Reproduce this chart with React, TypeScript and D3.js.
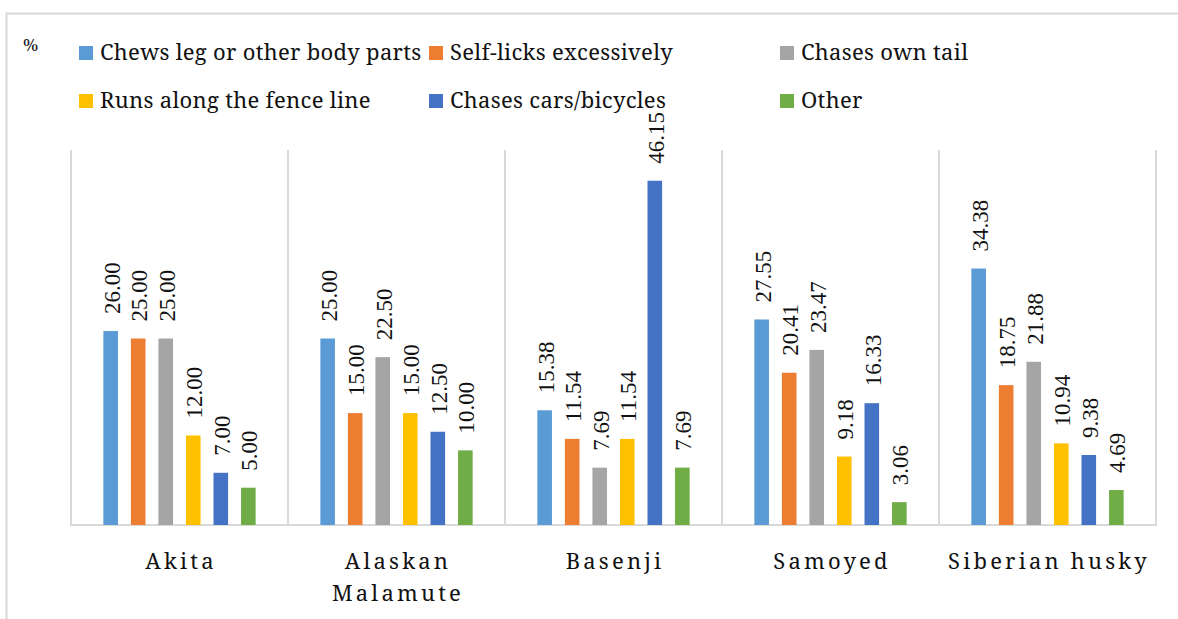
import React from 'react';
import * as d3 from 'd3';

const breeds = ['Akita', 'Alaskan Malamute', 'Basenji', 'Samoyed', 'Siberian husky'];
const behaviours = [
  'Chews leg or other body parts',
  'Self-licks excessively',
  'Chases own tail',
  'Runs along the fence line',
  'Chases cars/bicycles',
  'Other',
];
const colors = ['#5B9BD5', '#ED7D31', '#A5A5A5', '#FFC000', '#4472C4', '#70AD47'];

// one array per series, in breed order
const chewsLeg = [26.0, 25.0, 15.38, 27.55, 34.38];
const selfLicks = [25.0, 15.0, 11.54, 20.41, 18.75];
const chasesTail = [25.0, 22.5, 7.69, 23.47, 21.88];
const runsFence = [12.0, 15.0, 11.54, 9.18, 10.94];
const chasesCars = [7.0, 12.5, 46.15, 16.33, 9.38];
const other = [5.0, 10.0, 7.69, 3.06, 4.69];

const series = [chewsLeg, selfLicks, chasesTail, runsFence, chasesCars, other];

const W = 1178;
const H = 619;
const left = 71;
const right = 1156;
const top = 152;
const bottom = 525;

const times = 'Liberation Serif';
const book = 'Noto Serif'; // closest thing to the Palatino look

const App = () => {
  const x0 = d3.scaleBand<string>().domain(breeds).range([left, right]);
  const x1 = d3
    .scaleBand<number>()
    .domain(d3.range(series.length))
    .range([0, x0.bandwidth()])
    .paddingInner(0.47)
    .paddingOuter(1.175);
  const y = d3.scaleLinear().domain([0, 50]).range([bottom, top]);

  const boundaries = [...breeds.map((b) => x0(b) as number), right];

  // legend layout: 3 columns, 2 rows
  const legendCols = [79, 429, 780];
  const legendRows = [46, 94];

  return (
    <svg
      width={W}
      height={H}
      style={{ position: 'absolute', left: 0, top: 0, background: '#fff' }}
    >
      {/* outer frame */}
      <path d={`M6.5,${H} V13.5 H${W}`} fill="none" stroke="#d9d9d9" strokeWidth={2} />

      <text x={23} y={51} style={{ fontFamily: book }} fontSize={17} fill="#111">%</text>

      {/* legend */}
      {behaviours.map((name, i) => {
        const cx = legendCols[i % 3];
        const cy = legendRows[Math.floor(i / 3)];
        return (
          <g key={name}>
            <rect x={cx} y={cy} width={14} height={14} fill={colors[i]} />
            <text
              x={cx + 21}
              y={cy + 14}
              style={{ fontFamily: book }}
              fontSize={22}
              letterSpacing={0.3}
              fill="#111"
            >
              {name}
            </text>
          </g>
        );
      })}

      {/* category separators and baseline */}
      {boundaries.map((bx, i) => (
        <line key={i} x1={bx} x2={bx} y1={150} y2={bottom} stroke="#d9d9d9" strokeWidth={2} />
      ))}
      <line x1={left - 1} x2={right + 1} y1={bottom} y2={bottom} stroke="#d9d9d9" strokeWidth={2} />

      {/* bars and labels */}
      {breeds.map((breed, bi) => (
        <g key={breed} transform={`translate(${x0(breed)},0)`}>
          {series.map((vals, si) => {
            const v = vals[bi];
            const bx = x1(si) as number;
            const cx = bx + x1.bandwidth() / 2;
            const by = y(v);
            return (
              <g key={si}>
                <rect x={bx} y={by} width={x1.bandwidth()} height={bottom - by} fill={colors[si]} />
                <text
                  transform={`translate(${cx + 9},${by - 17}) rotate(-90)`}
                  style={{ fontFamily: times }}
                  fontSize={23}
                  fill="#111"
                >
                  {v.toFixed(2)}
                </text>
              </g>
            );
          })}
        </g>
      ))}

      {/* category labels */}
      {breeds.map((breed) => {
        const cx = (x0(breed) as number) + x0.bandwidth() / 2 + 1.5;
        const words = breed === 'Alaskan Malamute' ? ['Alaskan', 'Malamute'] : [breed];
        return (
          <text
            key={breed}
            textAnchor="middle"
            style={{ fontFamily: book }}
            fontSize={22}
            letterSpacing={3.2}
            fill="#111"
          >
            {words.map((w, i) => (
              <tspan key={w} x={cx} y={569 + i * 32}>
                {w}
              </tspan>
            ))}
          </text>
        );
      })}
    </svg>
  );
};

export default App;
